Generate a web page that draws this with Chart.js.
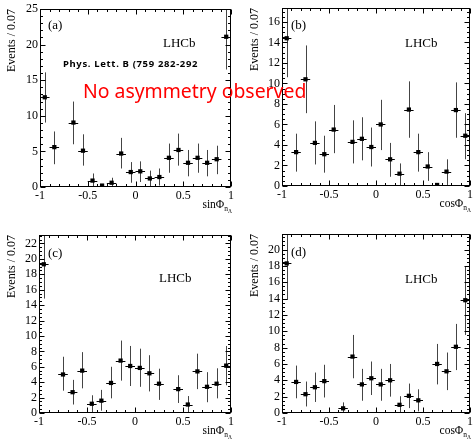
<!DOCTYPE html>
<html lang="en">
<head>
<meta charset="UTF-8">
<title>LHCb angular distributions</title>
<script src="https://cdn.jsdelivr.net/npm/chart.js@4.4.0/dist/chart.umd.min.js"></script>
<style>
  body { margin: 0; background: #fff; }
  #page { position: relative; width: 476px; height: 440px; overflow: hidden; }
  #page canvas { position: absolute; }
  .note { position: absolute; white-space: nowrap; line-height: 1; font-family: 'Noto Sans', sans-serif; }
</style>
</head>
<body>
<div id="page">
  <canvas id="chartA" width="238" height="220" style="left:0;top:0"></canvas>
  <canvas id="chartB" width="238" height="220" style="left:238px;top:0"></canvas>
  <canvas id="chartC" width="238" height="220" style="left:0;top:220px"></canvas>
  <canvas id="chartD" width="238" height="220" style="left:238px;top:220px"></canvas>
  <div class="note" style="left:63px;top:59px;font-size:9.5px;letter-spacing:0.65px;font-weight:bold;color:#000">Phys. Lett. B (759 282-292</div>
  <div class="note" style="left:83px;top:81px;font-size:19.4px;color:#f00">No asymmetry observed</div>
</div>
<script>
// bin centres, 20 bins from -1 to 1
const binCenters = [-0.95, -0.85, -0.75, -0.65, -0.55, -0.45, -0.35, -0.25, -0.15, -0.05,
                     0.05,  0.15,  0.25,  0.35,  0.45,  0.55,  0.65,  0.75,  0.85,  0.95];
const binHalfWidth = 0.05;
const xTickLabels = [-1, -0.5, 0, 0.5, 1];

// (a) sin phi
const sinA   = [12.6, 5.6, null, 9.05, 5.1, 0.9, 0.2, 0.6, 4.7, 2.1, 2.2, 1.2, 1.4, 4.1, 5.2, 3.4, 4.1, 3.4, 3.9, 21.1];
const sinALo = [9.05, 3.2, null, 6.0, 3.0, 0, 0, 0, 2.6, 0.6, 0.7, 0.1, 0.2, 2.0, 3.0, 1.5, 2.0, 1.5, 1.8, 16.5];
const sinAHi = [16.1, 7.8, null, 12.0, 7.4, 1.9, 0.4, 1.3, 6.9, 3.5, 3.6, 2.3, 2.6, 6.1, 7.5, 5.2, 6.1, 5.2, 5.8, 25.5];

// (b) cos phi
const cosB   = [14.4, 3.3, 10.4, 4.2, 3.1, 5.5, null, 4.3, 4.6, 3.8, 6.0, 2.6, 1.2, 7.45, 3.3, 1.9, 0.1, 1.4, 7.4, 4.9];
const cosBLo = [10.6, 1.4, 7.1, 2.1, 1.3, 3.2, null, 2.2, 2.5, 1.9, 3.5, 0.9, 0, 4.7, 1.4, 0.5, 0.1, 0.1, 4.7, 2.6];
const cosBHi = [18.2, 5.1, 13.7, 6.3, 4.9, 7.9, null, 6.4, 6.7, 5.7, 8.4, 4.2, 2.2, 10.2, 5.1, 3.3, 0.1, 2.6, 10.1, 7.1];

// (c) sin phi
const sinC   = [19.3, null, 5.0, 2.7, 5.5, 1.2, 1.6, 3.9, 6.8, 6.1, 5.85, 5.15, 3.8, null, 3.1, 1.1, 5.4, 3.4, 3.8, 6.15];
const sinCLo = [14.85, null, 2.9, 1.1, 3.2, 0, 0.3, 1.9, 4.2, 3.5, 3.4, 2.8, 1.7, null, 1.3, 0, 3.1, 1.4, 1.9, 3.6];
const sinCHi = [23.8, null, 7.3, 4.3, 7.9, 2.3, 3.0, 6.0, 9.4, 8.7, 8.35, 7.5, 5.75, null, 4.9, 2.2, 7.7, 5.3, 5.8, 8.7];

// (d) cos phi
const cosD   = [18.3, 3.8, 2.3, 3.15, 3.9, null, 0.57, 6.9, 3.5, 4.25, 3.5, 4.0, 1.0, 2.1, 1.55, null, 6.0, 5.1, 8.1, 13.8];
const cosDLo = [13.85, 1.8, 0.8, 1.35, 1.9, null, 0, 4.25, 1.5, 2.2, 1.5, 2.0, 0, 0.6, 0.2, null, 3.5, 2.8, 5.25, 9.55];
const cosDHi = [22.7, 5.8, 3.85, 4.95, 5.9, null, 1.3, 9.55, 5.4, 6.3, 5.4, 6.0, 2.05, 3.6, 2.9, null, 8.45, 7.4, 10.9, 17.95];

const serif = '"Liberation Serif", "Times New Roman", serif';

// error bars drawn under the markers, clipped to the frame
const errorBars = {
  id: 'errorBars',
  beforeDatasetsDraw(chart) {
    const {ctx, chartArea: a, scales: {x, y}} = chart;
    ctx.save();
    ctx.beginPath();
    ctx.rect(a.left, a.top, a.right - a.left, a.bottom - a.top);
    ctx.clip();
    ctx.lineWidth = 1;
    chart.data.datasets[0].data.forEach(p => {
      const px = Math.round(x.getPixelForValue(p.x)) + 0.5;
      const py = Math.round(y.getPixelForValue(p.y)) + 0.5;
      ctx.strokeStyle = '#444';
      ctx.beginPath();
      ctx.moveTo(px, y.getPixelForValue(p.lo));
      ctx.lineTo(px, y.getPixelForValue(p.hi));
      ctx.stroke();
      ctx.strokeStyle = '#000';
      ctx.beginPath();
      ctx.moveTo(x.getPixelForValue(p.x - binHalfWidth), py);
      ctx.lineTo(x.getPixelForValue(p.x + binHalfWidth), py);
      ctx.stroke();
    });
    ctx.restore();
  }
};

// ROOT style frame with inward ticks on all four sides
function tickLoop(scale, step, major, cb) {
  const n = Math.floor((scale.max - scale.min) / step + 1e-6);
  for (let k = 0; k <= n; k++) {
    const v = scale.min + k * step;
    const r = v / major;
    cb(scale.getPixelForValue(v), Math.abs(r - Math.round(r)) < 1e-6);
  }
}

const frameTicks = {
  id: 'frameTicks',
  afterDraw(chart, args, opts) {
    const {ctx, chartArea: a, scales: {x, y}} = chart;
    const L = Math.round(a.left) + 0.5, R = Math.round(a.right) - 0.5;
    const T = Math.round(a.top) + 0.5, B = Math.round(a.bottom) - 0.5;
    ctx.save();
    ctx.strokeStyle = '#000';
    ctx.lineWidth = 1;
    ctx.strokeRect(L, T, R - L, B - T);
    ctx.beginPath();
    tickLoop(x, 0.1, 0.5, (px, isMajor) => {
      const len = isMajor ? 5 : 2.5;
      const xx = Math.round(px) + 0.5;
      ctx.moveTo(xx, B); ctx.lineTo(xx, B - len);
      ctx.moveTo(xx, T); ctx.lineTo(xx, T + len);
    });
    tickLoop(y, opts.minor, opts.major, (py, isMajor) => {
      const len = isMajor ? 5 : 2.5;
      const yy = Math.round(py) + 0.5;
      ctx.moveTo(L, yy); ctx.lineTo(L + len, yy);
      ctx.moveTo(R, yy); ctx.lineTo(R - len, yy);
    });
    ctx.stroke();
    ctx.restore();
  }
};

// panel tag, LHCb label and x-axis title with subscripts
const panelText = {
  id: 'panelText',
  afterDraw(chart, args, opts) {
    const {ctx, chartArea: a} = chart;
    ctx.save();
    ctx.fillStyle = '#000';
    ctx.textBaseline = 'alphabetic';
    ctx.font = '13px ' + serif;
    ctx.fillText(opts.tag, opts.tagPos[0], opts.tagPos[1]);
    ctx.fillText('LHCb', opts.lhcbPos[0], opts.lhcbPos[1]);

    const main = opts.fn + 'Φ';
    ctx.font = '11.5px ' + serif;
    const w1 = ctx.measureText(main).width;
    ctx.font = '7.5px ' + serif;
    const w2 = ctx.measureText('n').width;
    ctx.font = '5.5px ' + serif;
    const w3 = ctx.measureText('Λ').width;
    let tx = a.right - (w1 + w2 + w3) + 1;
    const ty = a.bottom + 21;
    ctx.font = '11.5px ' + serif;
    ctx.fillText(main, tx, ty);
    tx += w1;
    ctx.font = '7.5px ' + serif;
    ctx.fillText('n', tx, ty + 3);
    tx += w2;
    ctx.font = '5.5px ' + serif;
    ctx.fillText('Λ', tx, ty + 5);
    ctx.restore();
  }
};

function makePanel(p) {
  const points = [];
  binCenters.forEach((c, i) => {
    if (p.values[i] !== null) points.push({x: c, y: p.values[i], lo: p.lo[i], hi: p.hi[i]});
  });

  new Chart(document.getElementById(p.id), {
    type: 'scatter',
    data: {
      datasets: [{
        data: points,
        pointStyle: 'rect',
        pointRadius: 3,
        pointHoverRadius: 3,
        backgroundColor: '#000',
        borderWidth: 0
      }]
    },
    plugins: [errorBars, frameTicks, panelText],
    options: {
      responsive: false,
      animation: false,
      events: [],
      layout: {padding: {top: p.box.top, right: p.box.right, left: 0, bottom: 0}},
      plugins: {
        legend: {display: false},
        tooltip: {enabled: false},
        frameTicks: {major: p.yStep, minor: p.yMinor},
        panelText: {tag: p.tag, fn: p.fn, tagPos: p.tagPos, lhcbPos: p.lhcbPos}
      },
      scales: {
        x: {
          type: 'linear',
          min: -1,
          max: 1,
          afterBuildTicks: s => { s.ticks = xTickLabels.map(v => ({value: v})); },
          ticks: {
            color: '#000',
            padding: 3,
            maxRotation: 0,
            font: {family: serif, size: 12, lineHeight: 1},
            callback: v => String(v)
          },
          grid: {display: false, drawTicks: false},
          border: {display: false},
          afterFit: s => { s.height = p.box.bottom; }
        },
        y: {
          min: 0,
          max: p.yMax,
          ticks: {
            stepSize: p.yStep,
            includeBounds: false,
            color: '#000',
            padding: 2,
            font: {family: serif, size: 12, lineHeight: 1},
            callback: v => String(v)
          },
          grid: {display: false, drawTicks: false},
          border: {display: false},
          title: {
            display: true,
            text: 'Events / 0.07',
            align: 'end',
            color: '#000',
            font: {family: serif, size: 12},
            padding: {top: p.titlePad, bottom: 0}
          },
          afterFit: s => { s.width = p.box.left; }
        }
      }
    }
  });
}

makePanel({id: 'chartA', tag: '(a)', fn: 'sin', values: sinA, lo: sinALo, hi: sinAHi,
  yMax: 25, yStep: 5, yMinor: 1, box: {left: 40, top: 9, right: 7, bottom: 33},
  titlePad: 4.8, tagPos: [48, 29], lhcbPos: [163, 47]});
makePanel({id: 'chartB', tag: '(b)', fn: 'cos', values: cosB, lo: cosBLo, hi: cosBHi,
  yMax: 17.35, yStep: 2, yMinor: 0.5, box: {left: 44, top: 7, right: 3, bottom: 34},
  titlePad: 9.3, tagPos: [53, 29], lhcbPos: [167, 47]});
makePanel({id: 'chartC', tag: '(c)', fn: 'sin', values: sinC, lo: sinCLo, hi: sinCHi,
  yMax: 23.1, yStep: 2, yMinor: 0.5, box: {left: 39, top: 15, right: 7, bottom: 27},
  titlePad: 4.8, tagPos: [48, 37], lhcbPos: [159, 62]});
makePanel({id: 'chartD', tag: '(d)', fn: 'cos', values: cosD, lo: cosDLo, hi: cosDHi,
  yMax: 21.9, yStep: 2, yMinor: 0.5, box: {left: 44, top: 14, right: 3, bottom: 27},
  titlePad: 9.3, tagPos: [53, 36], lhcbPos: [167, 63]});
</script>
</body>
</html>
